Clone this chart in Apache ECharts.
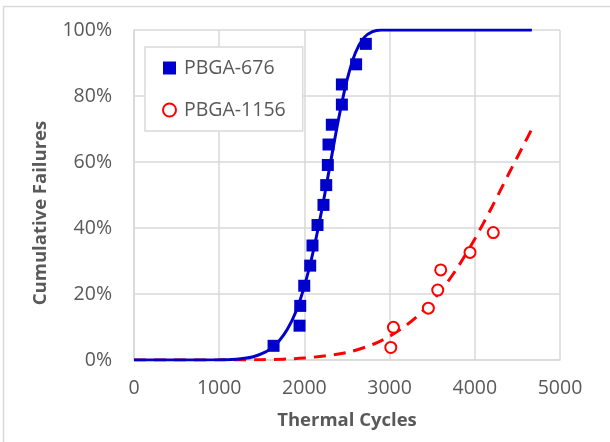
<!DOCTYPE html>
<html>
<head>
<meta charset="utf-8">
<script src="https://cdn.jsdelivr.net/npm/echarts@6/dist/echarts.min.js"></script>
<style>
  html, body { margin: 0; padding: 0; background: #fff; }
  #chart { width: 610px; height: 442px; }
</style>
</head>
<body>
<div id="chart"></div>
<script>
'use strict';
// 测试数据 (cycles, cumulative %)
var pbga676Cycles = [1638, 1943, 1951, 1998, 2068, 2095, 2154, 2224, 2256, 2275, 2283, 2322, 2440, 2440, 2607, 2721];
var pbga676Pct = [4.3, 10.4, 16.4, 22.5, 28.6, 34.7, 40.9, 47.0, 53.0, 59.1, 65.3, 71.3, 77.4, 83.5, 89.6, 95.8];

var pbga1156Cycles = [3014, 3045, 3455, 3565, 3600, 3944, 4217];
var pbga1156Pct = [3.8, 9.9, 15.7, 21.2, 27.3, 32.6, 38.6];

// 拟合曲线
var fit676Cycles = [0, 500, 1000, 1200, 1300, 1400, 1500, 1600, 1700, 1800, 1900, 2000, 2100, 2200, 2300, 2400, 2500, 2600, 2700, 2800, 2900, 4670];
var fit676Pct = [0, 0, 0.05, 0.25, 0.5, 1.0, 1.9, 3.3, 5.7, 9.3, 14.6, 22.4, 32.5, 44.9, 58.9, 72.9, 84.8, 93.2, 97.7, 99.5, 100, 100];

var fit1156Cycles = [0, 1000, 1500, 2000, 2500, 2800, 3000, 3200, 3400, 3600, 3800, 4000, 4200, 4400, 4670];
var fit1156Pct = [0, 0, 0.1, 0.6, 2.3, 4.7, 7.2, 10.6, 15.1, 20.9, 28.1, 36.7, 46.3, 56.5, 70.0];

var xTicks = [0, 1000, 2000, 3000, 4000, 5000];
var yTicks = [0, 20, 40, 60, 80, 100];

function zip(xs, ys) {
  var out = [];
  for (var i = 0; i < xs.length; i++) out.push([xs[i], ys[i]]);
  return out;
}

var BLUE = '#0000CC', RED = '#FF0000', GRID = '#D9D9D9', TEXT = '#595959';
var FONT = '"Open Sans", "Noto Sans", sans-serif';

var chart = echarts.init(document.getElementById('chart'));

var option = {
  animation: false,
  backgroundColor: '#fff',
  textStyle: { fontFamily: FONT },
  graphic: [{
    type: 'rect',
    shape: { x: 3.5, y: 6.5, width: 640, height: 460 },
    style: { fill: 'none', stroke: GRID, lineWidth: 1.5 },
    silent: true
  }],
  grid: { left: 134, top: 30, right: 50, bottom: 82 },
  legend: {
    data: ['PBGA-676', 'PBGA-1156'],
    orient: 'vertical',
    left: 145,
    top: 47,
    padding: [11, 17, 11, 17],
    itemGap: 22,
    itemWidth: 13,
    itemHeight: 13,
    backgroundColor: '#fff',
    borderColor: GRID,
    borderWidth: 1.5,
    textStyle: { fontSize: 19.5, color: TEXT, fontFamily: FONT, padding: [0, 0, 0, 3] }
  },
  xAxis: {
    type: 'value',
    min: 0,
    max: 5000,
    interval: 1000,
    name: 'Thermal Cycles',
    nameLocation: 'middle',
    nameGap: 51,
    nameTextStyle: { fontSize: 18.5, fontWeight: 'bold', color: TEXT, fontFamily: FONT },
    axisLine: { show: true, lineStyle: { color: GRID, width: 1.5 } },
    axisTick: { show: false },
    axisLabel: {
      margin: 18, fontSize: 19.5, color: TEXT, fontFamily: FONT,
      formatter: function (v) { return String(v); }
    },
    splitLine: { show: true, lineStyle: { color: GRID, width: 1.5 } }
  },
  yAxis: {
    type: 'value',
    min: 0,
    max: 100,
    interval: 20,
    name: 'Cumulative Failures',
    nameLocation: 'middle',
    nameGap: 84,
    nameTextStyle: { fontSize: 18.5, fontWeight: 'bold', color: TEXT, fontFamily: FONT, padding: [0, 36, 0, 0] },
    axisLine: { show: true, lineStyle: { color: GRID, width: 1.5 } },
    axisTick: { show: false },
    axisLabel: { margin: 22, fontSize: 19.5, color: TEXT, fontFamily: FONT, formatter: '{value}%' },
    splitLine: { show: true, lineStyle: { color: GRID, width: 1.5 } }
  },
  series: [{
    name: 'fit676',
    type: 'line',
    data: zip(fit676Cycles, fit676Pct),
    smooth: 0.3,
    showSymbol: false,
    lineStyle: { color: BLUE, width: 3 },
    z: 2
  }, {
    name: 'fit1156',
    type: 'line',
    data: zip(fit1156Cycles, fit1156Pct),
    smooth: 0.3,
    showSymbol: false,
    lineStyle: { color: RED, width: 3, type: [12, 8] },
    z: 1
  }, {
    name: 'PBGA-676',
    type: 'scatter',
    data: zip(pbga676Cycles, pbga676Pct),
    symbol: 'rect',
    symbolSize: 12,
    itemStyle: { color: BLUE, opacity: 1 },
    z: 3
  }, {
    name: 'PBGA-1156',
    type: 'scatter',
    data: zip(pbga1156Cycles, pbga1156Pct),
    symbol: 'circle',
    symbolSize: 11,
    itemStyle: { color: '#fff', borderColor: RED, borderWidth: 2, opacity: 1 },
    z: 3
  }]
};

chart.setOption(option);
</script>
</body>
</html>
